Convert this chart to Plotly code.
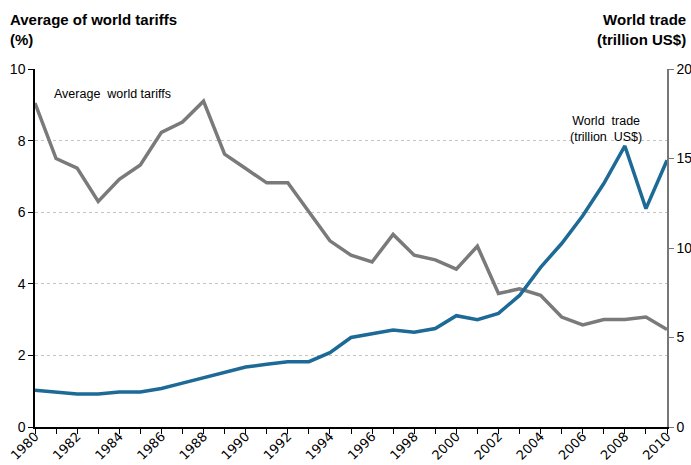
import plotly.graph_objects as go

years = list(range(1980, 2011))
tariffs = [9.05, 7.5, 7.23, 6.3, 6.92, 7.32, 8.23, 8.52, 9.1, 7.62, 7.22, 6.82, 6.82, 6.0, 5.2,
           4.8, 4.61, 5.38, 4.8, 4.67, 4.41, 5.05, 3.73, 3.86, 3.68, 3.07, 2.85, 3.0, 3.0, 3.07, 2.72]
trade = [2.05, 1.95, 1.85, 1.85, 1.95, 1.95, 2.15, 2.45, 2.75, 3.05, 3.35, 3.5, 3.65, 3.65, 4.15,
         5.0, 5.22, 5.42, 5.3, 5.5, 6.22, 6.0, 6.35, 7.35, 8.92, 10.25, 11.8, 13.6, 15.7, 12.2, 14.9]
x_ticks = list(range(1980, 2011, 2))

PW, PH = 632, 358

fig = go.Figure()
fig.add_trace(go.Scatter(x=years, y=tariffs, mode="lines", line=dict(color="#7a7a7a", width=3.5),
                         yaxis="y", showlegend=False))
fig.add_trace(go.Scatter(x=years, y=trade, mode="lines", line=dict(color="#1d6a97", width=3.5),
                         yaxis="y2", showlegend=False))

fig.update_layout(
    width=691, height=465,
    margin=dict(l=35, r=24, t=69, b=38, autoexpand=False),
    plot_bgcolor="white", paper_bgcolor="white",
    xaxis=dict(range=[1980, 2010], tickvals=x_ticks, ticktext=[str(v) for v in x_ticks],
               tickangle=-45, ticks="outside", ticklen=5, tickcolor="black", automargin=False,
               ticklabelstandoff=-10,
               showline=True, linecolor="black", linewidth=1.5, showgrid=False, zeroline=False,
               tickfont=dict(family="DejaVu Sans", size=13, color="black"),
               minor=dict(dtick=1, tick0=1980, ticks="outside", ticklen=5, tickcolor="black", showgrid=False)),
    yaxis=dict(range=[0, 10], dtick=2, ticks="outside", ticklen=5, tickcolor="black", automargin=False,
               showline=True, linecolor="black", linewidth=1.5, zeroline=False,
               showgrid=True, gridcolor="#c4c4c4", griddash="dot", gridwidth=1,
               tickfont=dict(family="Liberation Sans", size=14, color="black")),
    yaxis2=dict(range=[0, 20], dtick=5, overlaying="y", side="right", ticks="outside", ticklen=5,
                tickcolor="#777777", showline=True, linecolor="#777777", linewidth=1.5, automargin=False,
                showgrid=False, zeroline=False,
                tickfont=dict(family="Liberation Sans", size=14, color="black")),
    annotations=[
        dict(text="<b>Average of world tariffs</b><br><b>(%)</b>", xref="paper", yref="paper",
             x=-27/PW, y=1 + 60/PH, xanchor="left", yanchor="top", showarrow=False, align="left",
             font=dict(family="Liberation Sans", size=15, color="black")),
        dict(text="<b>World trade</b><br><b>(trillion US$)</b>", xref="paper", yref="paper",
             x=1 + 21/PW, y=1 + 60/PH, xanchor="right", yanchor="top", showarrow=False, align="right",
             font=dict(family="Liberation Sans", size=15, color="black")),
        dict(text="Average  world tariffs", xref="x", yref="y", x=1980.8, y=9.3,
             xanchor="left", yanchor="middle", showarrow=False,
             font=dict(family="Liberation Sans", size=12.5, color="black")),
        dict(text="World  trade<br>(trillion  US$)", xref="x", yref="y2", x=2007.1, y=15.72,
             xanchor="center", yanchor="bottom", showarrow=False, align="center",
             font=dict(family="Liberation Sans", size=12.5, color="black")),
    ],
)

fig.write_html("out.html", config={"displayModeBar": False},
               post_script="document.body.style.margin='0';document.body.style.overflow='hidden';")
